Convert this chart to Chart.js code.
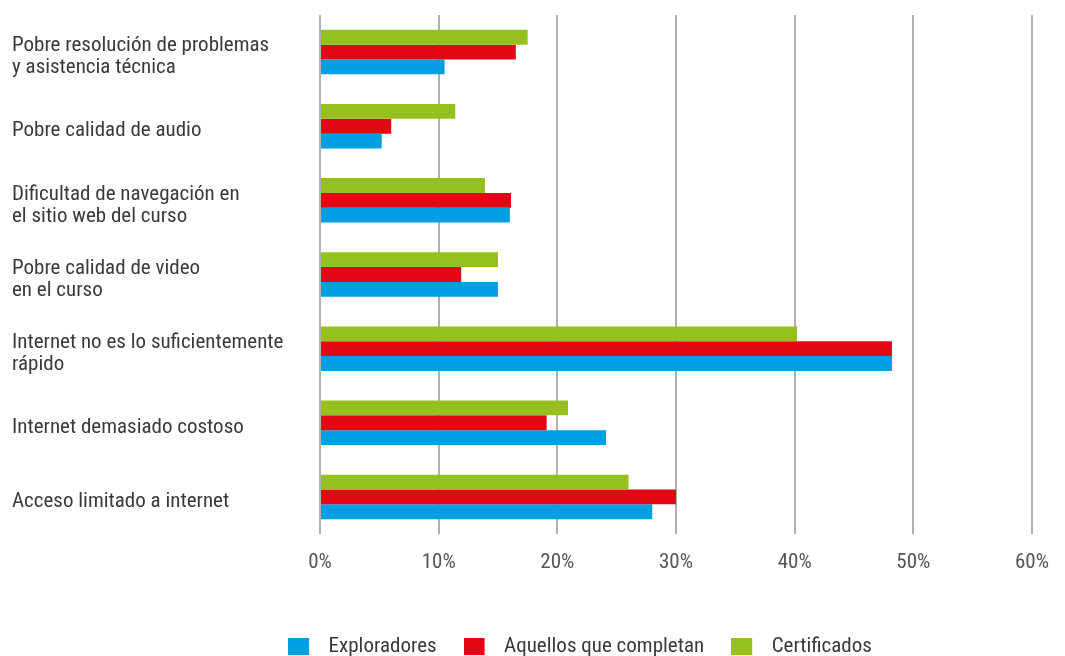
<!DOCTYPE html>
<html lang="es">
<head>
<meta charset="utf-8">
<title>Problemas técnicos por tipo de participante</title>
<script src="https://cdn.jsdelivr.net/npm/chart.js@4.4.1/dist/chart.umd.min.js"></script>
<style>
  html, body { margin: 0; padding: 0; background: #ffffff; overflow: hidden; }
  #wrap { position: relative; width: 1065px; height: 667px; }
</style>
</head>
<body>
<div id="wrap"><canvas id="chart"></canvas></div>
<script>
// Categories, top to bottom
const categories = [
  ['Pobre resolución de problemas', 'y asistencia técnica'],
  'Pobre calidad de audio',
  ['Dificultad de navegación en', 'el sitio web del curso'],
  ['Pobre calidad de video', 'en el curso'],
  ['Internet no es lo suficientemente', 'rápido'],
  'Internet demasiado costoso',
  'Acceso limitado a internet'
];

// Share of respondents (%) per series
const exploradores = [10.5, 5.2, 16.0, 15.0, 48.2, 24.1, 28.0];
const completan    = [16.5, 6.0, 16.1, 11.9, 48.2, 19.1, 30.0];
const certificados = [17.5, 11.4, 13.9, 15.0, 40.2, 20.9, 26.0];

const seriesNames = ['Exploradores', 'Aquellos que completan', 'Certificados'];
const xTicks = [0, 10, 20, 30, 40, 50, 60];

const BLUE = '#009fe3';
const RED = '#e30613';
const GREEN = '#95c11f';
const FONT = "'Roboto Condensed', 'Liberation Sans Narrow', sans-serif";
const LEGEND_CENTER_X = 580;

// Small legend swatch: a 21x17 square on the left of a wider transparent box
function swatch(color) {
  const c = document.createElement('canvas');
  c.width = 30; c.height = 17;
  const g = c.getContext('2d');
  g.fillStyle = color;
  g.fillRect(0, 0, 21, 17);
  return c;
}

const legendColors = { 'Exploradores': BLUE, 'Aquellos que completan': RED, 'Certificados': GREEN };

// Centre the legend row under the plot rather than under the whole canvas
const legendShift = {
  id: 'legendShift',
  afterLayout(chart) {
    const lg = chart.legend;
    if (!lg) return;
    const dx = LEGEND_CENTER_X - (lg.left + lg.right) / 2;
    lg.left += dx;
    lg.right += dx;
  }
};

new Chart(document.getElementById('chart'), {
  type: 'bar',
  data: {
    labels: categories,
    datasets: [
      { label: seriesNames[2], data: certificados, backgroundColor: GREEN },
      { label: seriesNames[1], data: completan, backgroundColor: RED },
      { label: seriesNames[0], data: exploradores, backgroundColor: BLUE }
    ]
  },
  plugins: [legendShift],
  options: {
    indexAxis: 'y',
    responsive: true,
    maintainAspectRatio: false,
    animation: false,
    layout: { padding: { top: 15, left: 12, right: 32, bottom: 0 } },
    datasets: { bar: { categoryPercentage: 0.6, barPercentage: 1.0, borderWidth: 0 } },
    scales: {
      x: {
        min: 0,
        max: 60,
        afterBuildTicks: (axis) => { axis.ticks = xTicks.map(v => ({ value: v })); },
        afterFit: (axis) => { axis.height = 75; },
        grid: { color: '#b0b0b0', lineWidth: 2, drawTicks: false },
        border: { display: false },
        ticks: {
          padding: 16,
          color: '#555555',
          font: { family: FONT, size: 21, weight: 400 },
          callback: (v) => v + '%'
        }
      },
      y: {
        afterFit: (axis) => { axis.width = 308; },
        grid: { display: false, drawTicks: false },
        border: { display: false },
        ticks: {
          crossAlign: 'far',
          padding: 0,
          labelOffset: 5,
          color: '#3a3a3a',
          font: { family: FONT, size: 21, weight: 400, lineHeight: 1.05 }
        }
      }
    },
    plugins: {
      tooltip: { enabled: false },
      legend: {
        position: 'bottom',
        labels: {
          usePointStyle: true,
          pointStyleWidth: 30,
          boxHeight: 17,
          padding: 27,
          color: '#3a3a3a',
          font: { family: FONT, size: 21, weight: 400 },
          generateLabels: (chart) => {
            const items = Chart.defaults.plugins.legend.labels.generateLabels(chart);
            items.reverse();
            items.forEach(it => { it.pointStyle = swatch(legendColors[it.text]); });
            return items;
          }
        }
      }
    }
  }
});
</script>
</body>
</html>
